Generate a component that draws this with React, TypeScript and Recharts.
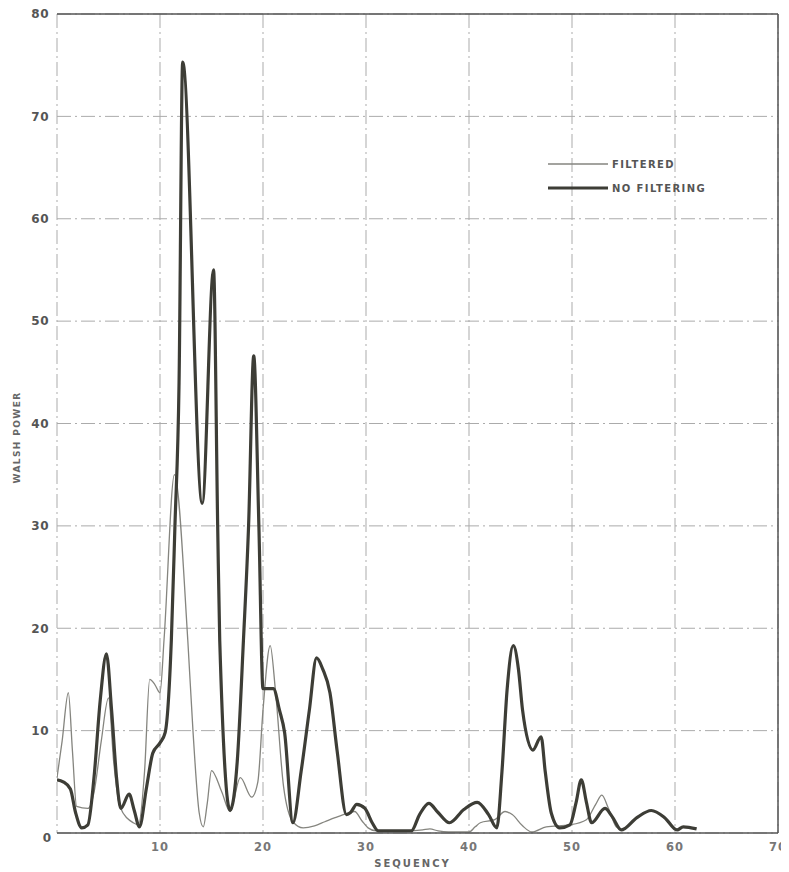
import React from "react";
import {
  LineChart,
  Line,
  XAxis,
  YAxis,
  CartesianGrid,
  ReferenceLine,
  Legend,
  Label,
} from "recharts";

// sequency / power pairs
const filteredSeq = [
  0, 0.5, 1.1, 1.5, 1.9, 3.0, 3.6, 4.3, 5.0, 5.5, 6.1, 7.4, 7.9, 8.5, 9.0, 9.5, 10.0, 10.4, 11.4,
  12.7, 13.2, 13.8, 14.2, 14.6, 15.0, 16.0, 16.8, 17.8, 18.9, 19.5, 20.0, 20.7, 21.2, 22.0, 22.9,
  23.9, 25.0, 26.0, 27.0, 28.1, 28.9, 29.6, 30.2, 31.0, 34.0, 35.5, 36.2, 37.0, 38.0, 40.0, 40.6,
  41.1, 42.5, 43.5, 44.2, 45.2, 46.1, 47.5, 49.8, 51.4, 52.3, 52.9, 53.5, 54.3, 55.0,
];
const filteredPower = [
  5.4, 9, 13.7, 8, 2.6, 2.4, 4, 9, 13.2, 7, 2.6, 1.0, 0.8, 6, 15, 14.5, 13.7, 19, 35,
  18.8, 10, 2, 0.6, 3, 6.1, 4.0, 2.1, 5.4, 3.5, 5, 12, 18.3, 14, 4.5, 1.1,
  0.5, 0.7, 1.1, 1.5, 1.9, 2.1, 1.2, 0.5, 0.2, 0.2, 0.3, 0.4, 0.2, 0.1, 0.1, 0.6,
  1.0, 1.3, 2.1, 1.8, 0.7, 0.1, 0.6, 0.8, 1.3, 2.8, 3.7, 2.5, 0.6, 0.2,
];

const rawSeq = [
  0, 0.6, 1.3, 1.8, 2.4, 3.0, 3.6, 4.2, 4.8, 5.3, 5.8, 6.2, 7.0, 7.5, 8.0, 8.7, 9.3, 10.0, 10.5,
  11.1, 11.45, 11.85, 12.2, 14.1, 15.2, 15.6, 15.8, 16.8, 17.5, 18.1, 18.6, 19.1, 19.6, 20.0, 21.0,
  21.6, 22.1, 22.9, 23.7, 24.5, 25.2, 25.8, 26.5, 27.2, 28.1, 28.5, 29.1, 29.9, 30.6, 31.2, 34.4,
  35.2, 36.1, 37.0, 38.1, 39.5, 40.8, 41.9, 42.7, 43.2, 43.7, 44.3, 44.8, 45.2, 46.2, 47.0, 47.4,
  48.0, 48.8, 49.8, 50.4, 50.9, 51.4, 51.9, 53.2, 53.9, 54.8, 56.3, 57.7, 59.0, 60.2, 60.8, 62.1,
];
const rawPower = [
  5.2, 5.0, 4.3, 2.0, 0.5, 0.8, 5.5, 13, 17.5, 12, 5.2, 2.4, 3.8, 2.2, 0.6, 4.5, 7.8, 8.8, 9.8,
  18.8, 30, 44, 75.3, 32.2, 55, 30, 18.8, 2.2, 7, 18.8, 30, 46.6, 30, 14.1, 14.1,
  12, 9.8, 1.0, 6, 12, 17.1, 16, 13.7, 8, 1.8, 2.0, 2.8, 2.4, 1.0, 0.2, 0.2,
  1.8, 2.9, 2.0, 1.0, 2.3, 3.0, 1.8, 0.5, 6, 14, 18.3, 16, 12, 8.1, 9.4, 6,
  1.9, 0.5, 0.8, 3, 5.2, 3, 1.0, 2.4, 1.6, 0.3, 1.5, 2.2, 1.5, 0.3, 0.6, 0.4,
];

const xTicks = [0, 10, 20, 30, 40, 50, 60, 70];
const yTicks = [0, 10, 20, 30, 40, 50, 60, 70, 80];

const filtered = filteredSeq.map((s, i) => ({ seq: s, power: filteredPower[i] }));
const unfiltered = rawSeq.map((s, i) => ({ seq: s, power: rawPower[i] }));

const FONT = "'DejaVu Sans', Verdana, sans-serif";
const INK = "#3d3d36";
const THIN = "#85857f";

const LegendBox = () => (
  <svg width={190} height={44}>
    <line x1={2} y1={10} x2={62} y2={10} stroke={THIN} strokeWidth={1.4} />
    <text x={66} y={14} fontFamily={FONT} fontSize={10} fontWeight={700} fill="#555" letterSpacing={1.4}>
      FILTERED
    </text>
    <line x1={2} y1={34} x2={62} y2={34} stroke={INK} strokeWidth={3.2} />
    <text x={66} y={38} fontFamily={FONT} fontSize={10} fontWeight={700} fill="#555" letterSpacing={1.4}>
      NO FILTERING
    </text>
  </svg>
);

// the shared origin label "0" sits down-left of the corner
const XTick = (props: any) => {
  const { x, y, payload } = props;
  const v = payload.value;
  if (v === 0) {
    return (
      <text x={x - 10} y={y + 1} textAnchor="middle" fontFamily={FONT} fontSize={12} fontWeight={700} fill="#555">
        0
      </text>
    );
  }
  return (
    <text
      x={x}
      y={y}
      dy="0.9em"
      textAnchor="middle"
      fontFamily={FONT}
      fontSize={11.5}
      fontWeight={700}
      fill="#777"
      letterSpacing={1}
    >
      {v}
    </text>
  );
};

const YTitle = (props: any) => {
  const vb = props.viewBox || { x: 0, y: 0, width: 0, height: 0 };
  const cx = vb.x + 3;
  const cy = vb.y + vb.height / 2 + 14;
  return (
    <text
      x={cx}
      y={cy}
      transform={`rotate(-90, ${cx}, ${cy})`}
      textAnchor="middle"
      fontFamily={FONT}
      fontSize={9}
      fontWeight={700}
      fill="#666"
      letterSpacing={1.4}
    >
      WALSH POWER
    </text>
  );
};

export default function App() {
  return (
    <LineChart width={781} height={864} margin={{ top: 6, right: 11, bottom: 9, left: 9 }}>
      <CartesianGrid stroke="#ababab" strokeDasharray="14 4 2 4" />
      <XAxis
        type="number"
        dataKey="seq"
        domain={[0, 70]}
        ticks={xTicks}
        interval={0}
        allowDataOverflow
        height={30}
        tickLine={false}
        axisLine={{ stroke: "#555", strokeWidth: 1.5 }}
        tick={<XTick />}
      >
        <Label
          value="SEQUENCY"
          position="insideBottom"
          offset={-4}
          dx={-5}
          fill="#666"
          fontSize={10}
          fontWeight={700}
          fontFamily={FONT}
          letterSpacing={2}
        />
      </XAxis>
      <YAxis
        type="number"
        domain={[0, 80]}
        ticks={yTicks}
        interval={0}
        allowDataOverflow
        width={40}
        tickLine={false}
        axisLine={false}
        tickFormatter={(v: number) => (v === 0 ? "" : String(v))}
        tick={{ fill: "#555", fontSize: 12, fontFamily: FONT, fontWeight: 700, letterSpacing: 0.5 }}
      >
        <Label content={<YTitle />} />
      </YAxis>
      <ReferenceLine y={80} stroke="#555" strokeWidth={1.5} />
      <ReferenceLine x={70} stroke="#555" strokeWidth={1.5} />
      <Legend
        layout="horizontal"
        verticalAlign="middle"
        align="center"
        content={() => <LegendBox />}
        wrapperStyle={{ position: "absolute", left: 538, top: 146, width: 190, height: 44 }}
      />
      <Line
        data={filtered}
        dataKey="power"
        name="FILTERED"
        type="monotone"
        stroke={THIN}
        strokeWidth={1.3}
        dot={false}
        activeDot={false}
        isAnimationActive={false}
      />
      <Line
        data={unfiltered}
        dataKey="power"
        name="NO FILTERING"
        type="monotone"
        stroke={INK}
        strokeWidth={3.2}
        dot={false}
        activeDot={false}
        isAnimationActive={false}
      />
    </LineChart>
  );
}
